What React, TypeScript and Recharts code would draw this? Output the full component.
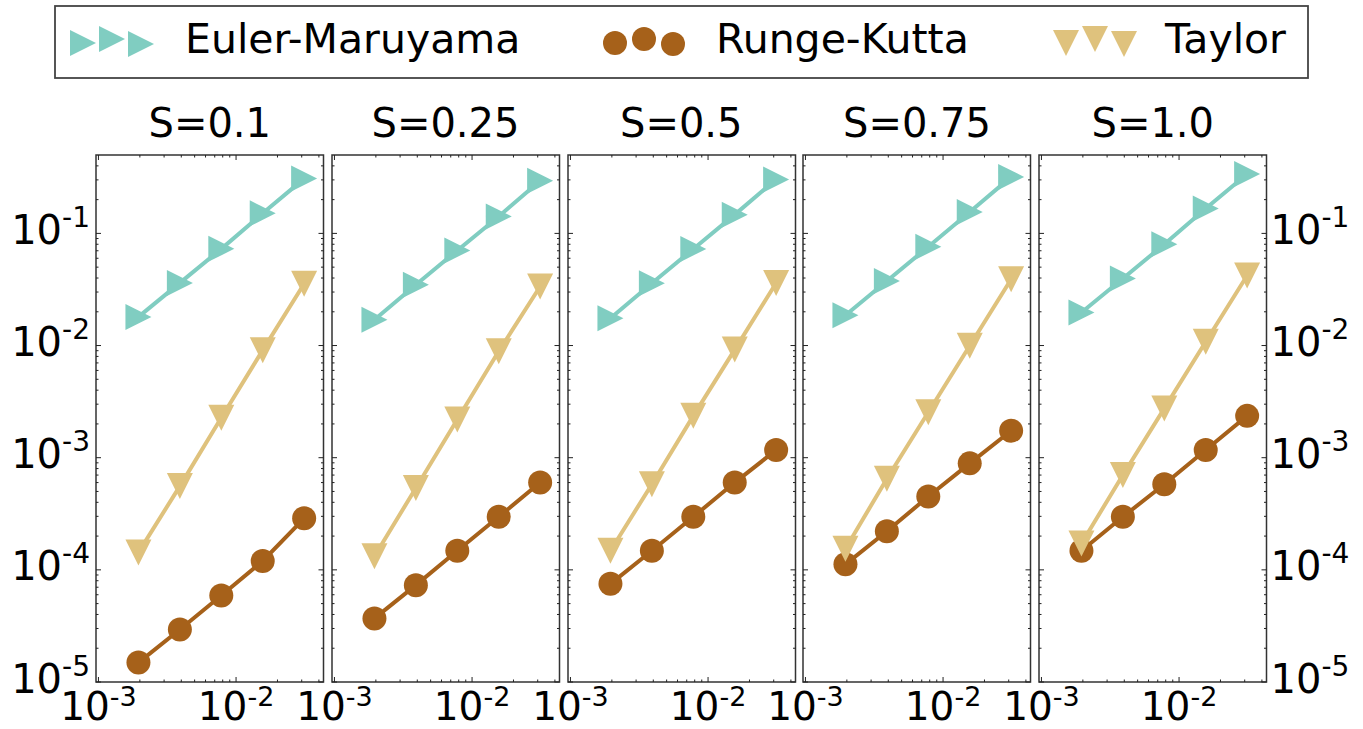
import { LineChart, Line, XAxis, YAxis, ReferenceArea } from "recharts";

// step sizes dt = 2^-9 .. 2^-5
const stepSizes = [0.001953125, 0.00390625, 0.0078125, 0.015625, 0.03125];
const panelTitles = ["S=0.1", "S=0.25", "S=0.5", "S=0.75", "S=1.0"];

// one row per panel
const eulerMaruyama = [
  [0.018, 0.0362, 0.0728, 0.151, 0.308],
  [0.017, 0.0348, 0.0705, 0.1416, 0.295],
  [0.0175, 0.036, 0.0727, 0.147, 0.303],
  [0.0186, 0.0376, 0.076, 0.155, 0.319],
  [0.0197, 0.0396, 0.08, 0.167, 0.339],
];
const rungeKutta = [
  [1.49e-5, 2.94e-5, 5.9e-5, 1.2e-4, 2.88e-4],
  [3.69e-5, 7.3e-5, 1.48e-4, 2.97e-4, 6.0e-4],
  [7.5e-5, 1.48e-4, 2.97e-4, 6.0e-4, 1.17e-3],
  [1.12e-4, 2.21e-4, 4.5e-4, 8.9e-4, 1.74e-3],
  [1.48e-4, 2.97e-4, 5.8e-4, 1.17e-3, 2.36e-3],
];
const taylor = [
  [1.43e-4, 5.58e-4, 2.27e-3, 9.1e-3, 0.0356],
  [1.32e-4, 5.37e-4, 2.19e-3, 8.9e-3, 0.0336],
  [1.48e-4, 5.8e-4, 2.36e-3, 9.2e-3, 0.0361],
  [1.54e-4, 6.5e-4, 2.54e-3, 9.95e-3, 0.039],
  [1.72e-4, 7.0e-4, 2.75e-3, 0.0108, 0.0421],
];

const seriesNames = ["Euler-Maruyama", "Runge-Kutta", "Taylor"];
const colors = ["#80cdc1", "#a6611a", "#dfc27d"];

const xMajor = [0.001, 0.01];
const xMinor = [0.002, 0.003, 0.004, 0.005, 0.006, 0.007, 0.008, 0.009, 0.02, 0.03, 0.04];
const yMajor = [1e-5, 1e-4, 1e-3, 1e-2, 1e-1];
const yMinor: number[] = [];
[1e-5, 1e-4, 1e-3, 1e-2, 1e-1].forEach((d) => {
  for (let k = 2; k <= 9; k++) if (k * d < 0.5) yMinor.push(k * d);
});
const xTicks = [...xMajor, ...xMinor].sort((a, b) => a - b);
const yTicks = [...yMajor, ...yMinor].sort((a, b) => a - b);

const xDomain = [0.00096, 0.0432];
const yDomain = [1e-5, 0.5];

const FONT = "DejaVu Sans";
const PLOT_W = 227.5;
const PLOT_H = 527;
const PLOT_TOP = 155;
const LEFT0 = 96;
const STEP = 235.75;
const PAD_L = 100;
const PAD_R = 100;
const PAD_T = 65;
const PAD_B = 47;
const MS = 13; // marker half size

const isMajor = (list: number[], v: number) => list.some((m) => Math.abs(m - v) < m * 1e-6);

const Tri = ({ cx, cy, dir, color }: any) => {
  const h = MS;
  const pts =
    dir === "right"
      ? `${cx + h},${cy} ${cx - h},${cy - h} ${cx - h},${cy + h}`
      : `${cx - h},${cy - h} ${cx + h},${cy - h} ${cx},${cy + h}`;
  return <polygon points={pts} fill={color} />;
};

const XTick = (props: any) => {
  const { x, payload } = props;
  const v = payload.value;
  const major = isMajor(xMajor, v);
  const len = major ? 5 : 2.5;
  const bottom = PAD_T + PLOT_H;
  return (
    <g>
      <line x1={x} x2={x} y1={bottom} y2={bottom - len} stroke="#222" strokeWidth={1} />
      <line x1={x} x2={x} y1={PAD_T} y2={PAD_T + len} stroke="#222" strokeWidth={1} />
      {major && (
        <text x={x} y={bottom + 38} textAnchor="middle" fontSize={39} fontFamily={FONT} fill="#000">
          10
          <tspan dy={-14} fontSize={27}>
            {"-" + Math.abs(Math.round(Math.log10(v)))}
          </tspan>
        </text>
      )}
    </g>
  );
};

const makeYTick = (side: "left" | "right" | "none") => (props: any) => {
  const { y, payload } = props;
  const v = payload.value;
  const major = isMajor(yMajor, v);
  const len = major ? 5 : 2.5;
  const right = PAD_L + PLOT_W;
  const exp = "-" + Math.abs(Math.round(Math.log10(v)));
  return (
    <g>
      <line x1={PAD_L} x2={PAD_L + len} y1={y} y2={y} stroke="#222" strokeWidth={1} />
      <line x1={right} x2={right - len} y1={y} y2={y} stroke="#222" strokeWidth={1} />
      {major && side !== "none" && (
        <text
          x={side === "left" ? PAD_L - 6 : right + 4}
          y={y + 10.5}
          textAnchor={side === "left" ? "end" : "start"}
          fontSize={40}
          fontFamily={FONT}
          fill="#000"
        >
          10
          <tspan dy={-17} fontSize={28}>
            {exp}
          </tspan>
        </text>
      )}
    </g>
  );
};

const Panel = ({ idx }: { idx: number }) => {
  const data = stepSizes.map((x, j) => ({
    x,
    em: eulerMaruyama[idx][j],
    rk: rungeKutta[idx][j],
    ty: taylor[idx][j],
  }));
  const side = idx === 0 ? "left" : idx === 4 ? "right" : "none";
  return (
    <div style={{ position: "absolute", left: LEFT0 + idx * STEP - PAD_L, top: PLOT_TOP - PAD_T }}>
      <LineChart
        width={PAD_L + PLOT_W + PAD_R}
        height={PAD_T + PLOT_H + PAD_B}
        data={data}
        margin={{ top: PAD_T, right: PAD_R, bottom: PAD_B - 30, left: PAD_L - 40 }}
      >
        <XAxis
          dataKey="x"
          type="number"
          scale="log"
          domain={xDomain}
          allowDataOverflow
          ticks={xTicks}
          interval={0}
          height={30}
          axisLine={false}
          tickLine={false}
          tick={<XTick />}
        />
        <YAxis
          type="number"
          scale="log"
          domain={yDomain}
          allowDataOverflow
          ticks={yTicks}
          interval={0}
          width={40}
          axisLine={false}
          tickLine={false}
          tick={makeYTick(side)}
        />
        <ReferenceArea
          x1={xDomain[0]}
          x2={xDomain[1]}
          y1={yDomain[0]}
          y2={yDomain[1]}
          fill="none"
          fillOpacity={0}
          stroke="#333"
          strokeWidth={1.5}
        />
        <Line
          dataKey="em"
          type="linear"
          stroke={colors[0]}
          strokeWidth={4}
          isAnimationActive={false}
          activeDot={false}
          dot={(p: any) => <Tri key={p.index} cx={p.cx} cy={p.cy} dir="right" color={colors[0]} />}
        />
        <Line
          dataKey="rk"
          type="linear"
          stroke={colors[1]}
          strokeWidth={4}
          isAnimationActive={false}
          activeDot={false}
          dot={(p: any) => <circle key={p.index} cx={p.cx} cy={p.cy} r={12} fill={colors[1]} />}
        />
        <Line
          dataKey="ty"
          type="linear"
          stroke={colors[2]}
          strokeWidth={4}
          isAnimationActive={false}
          activeDot={false}
          dot={(p: any) => <Tri key={p.index} cx={p.cx} cy={p.cy} dir="down" color={colors[2]} />}
        />
      </LineChart>
    </div>
  );
};

// legend marker offsets, like matplotlib's scatter legend
const legendMarkerX = [0, 29, 58];
const legendMarkerY = [43, 39, 44];
const legendItems = [
  { markerX: 83, textX: 185 },
  { markerX: 615, textX: 716 },
  { markerX: 1066, textX: 1165 },
];

const Legend = () => (
  <svg width={1363} height={729} style={{ position: "absolute", left: 0, top: 0 }}>
    <rect x={55} y={6} width={1253} height={72} fill="#fff" stroke="#444" strokeWidth={1.8} />
    {legendItems.map((it, i) => (
      <g key={i}>
        {legendMarkerX.map((dx, k) =>
          i === 1 ? (
            <circle key={k} cx={it.markerX + dx} cy={legendMarkerY[k]} r={12} fill={colors[1]} />
          ) : (
            <Tri key={k} cx={it.markerX + dx} cy={legendMarkerY[k]} dir={i === 0 ? "right" : "down"} color={colors[i]} />
          )
        )}
        <text x={it.textX} y={53} fontSize={41} fontFamily={FONT} fill="#000">
          {seriesNames[i]}
        </text>
      </g>
    ))}
    {panelTitles.map((t, i) => (
      <text
        key={t}
        x={LEFT0 + i * STEP + PLOT_W / 2}
        y={137}
        textAnchor="middle"
        fontSize={40}
        fontFamily={FONT}
        fill="#000"
      >
        {t}
      </text>
    ))}
  </svg>
);

export default function App() {
  return (
    <div style={{ position: "absolute", left: 0, top: 0, width: 1363, height: 729, background: "#fff" }}>
      <Legend />
      {panelTitles.map((t, i) => (
        <Panel key={t} idx={i} />
      ))}
    </div>
  );
}
